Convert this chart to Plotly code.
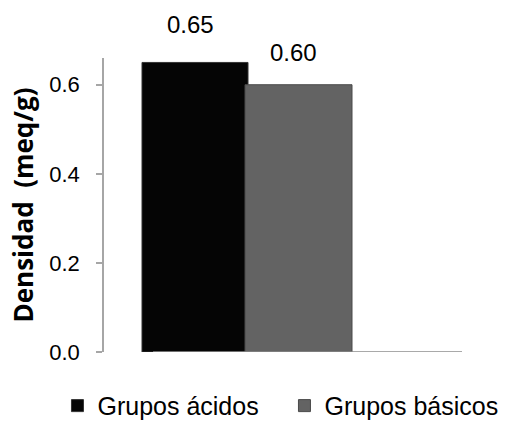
import plotly.graph_objects as go

series = ["Grupos ácidos", "Grupos básicos"]
values = [0.65, 0.60]
labels = ["0.65", "0.60"]
colors = ["#050505", "#636363"]
edge_colors = ["#333333", "#4a4a4a"]
offsets = [-1.05, -0.02]
widths = [1.06, 1.07]
label_shift = [38, 32]
y_ticks = [0.0, 0.2, 0.4, 0.6]
y_tick_text = ["0.0", "0.2", "0.4", "0.6"]

FONT = "Liberation Sans, Arial, sans-serif"
TITLE_FONT = "Open Sans, Noto Sans, sans-serif"

fig = go.Figure()
for name, v, c, ec, off, w in zip(series, values, colors, edge_colors, offsets, widths):
    fig.add_trace(go.Bar(
        x=[0], y=[v], name=name, offset=off, width=w,
        marker=dict(color=c, line=dict(color=ec, width=1)),
        hoverinfo="skip",
    ))

for v, t, off, w, s in zip(values, labels, offsets, widths, label_shift):
    fig.add_annotation(x=off + w / 2 - 0.05, y=v, text=t, showarrow=False,
                       yanchor="middle", yshift=s,
                       font=dict(family=FONT, size=24, color="#000"))

# horizontal baseline
fig.add_shape(type="line", xref="paper", yref="y", x0=0.137, x1=1.0, y0=0, y1=0,
              line=dict(color="#8c8c8c", width=1.5), layer="above")

fig.update_layout(
    width=512, height=427,
    margin=dict(l=104, r=50, t=58, b=75, autoexpand=False),
    paper_bgcolor="white", plot_bgcolor="white",
    barmode="overlay",
    showlegend=True,
    legend=dict(orientation="h", xref="paper", x=-0.13, xanchor="left",
                yref="paper", y=-0.105, yanchor="top",
                font=dict(family=FONT, size=25, color="#000"),
                itemwidth=30, entrywidth=182, tracegroupgap=0,
                traceorder="normal", bgcolor="rgba(0,0,0,0)"),
    font=dict(family=FONT, size=22, color="#000"),
)
fig.update_xaxes(range=[-1.43, 2.15], showticklabels=False, showgrid=False,
                 zeroline=False, showline=False, ticks="")
fig.update_yaxes(range=[0, 0.66], tickvals=y_ticks, ticktext=y_tick_text,
                 showgrid=False, zeroline=False, showline=True,
                 linecolor="#a6a6a6", linewidth=1.5, ticks="outside",
                 ticklen=6, tickcolor="#a6a6a6", tickwidth=1.5,
                 ticklabelstandoff=12,
                 tickfont=dict(family=FONT, size=22, color="#000"),
                 title=dict(text="<b>Densidad&nbsp; (meq/g)</b>", standoff=8,
                            font=dict(family=TITLE_FONT, size=26, color="#000")))

fig.write_html("out.html")
